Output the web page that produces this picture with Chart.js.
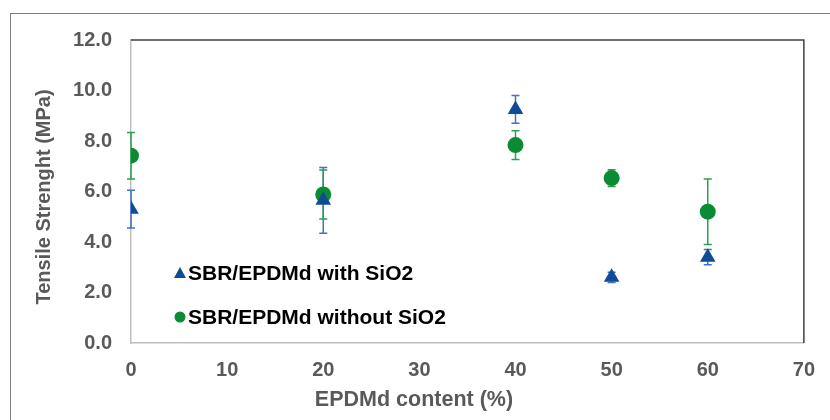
<!DOCTYPE html>
<html>
<head>
<meta charset="utf-8">
<script src="https://cdn.jsdelivr.net/npm/chart.js@4"></script>
<style>
  html, body { margin: 0; padding: 0; background: #fff; }
  #frame { position: absolute; left: 10px; top: 13px; width: 900px; height: 500px;
           border-top: 1px solid #7f7f7f; border-left: 1px solid #7f7f7f; }
  #wrap { position: absolute; left: 0; top: 0; width: 830px; height: 420px; }
</style>
</head>
<body>
<div id="frame"></div>
<div id="wrap"><canvas id="chart"></canvas></div>
<script>
// EPDMd content (%)
const contents = [0, 20, 40, 50, 60];

// Tensile strength (MPa) and error bars
const withSiO2 = [5.3, 5.65, 9.25, 2.6, 3.4];
const withSiO2Err = [0.75, 1.3, 0.55, 0.2, 0.3];
const withoutSiO2 = [7.42, 5.88, 7.84, 6.53, 5.2];
const withoutSiO2Err = [0.92, 0.97, 0.57, 0.33, 1.3];

const seriesLabels = ['SBR/EPDMd with SiO2', 'SBR/EPDMd without SiO2'];
const xTicks = [0, 10, 20, 30, 40, 50, 60, 70];
const yTicks = [0, 2, 4, 6, 8, 10, 12];
const xTitle = 'EPDMd content (%)';
const yTitle = 'Tensile Strenght (MPa)';

const FONT = '"Liberation Sans", Arial, sans-serif';
const BLUE = '#0f4c96';
const BLUE_ERR = '#3f72c8';
const GREEN = '#0b8c34';
const GREEN_ERR = '#2aa04a';
const AXIS_TEXT = '#595959';

function toPoints(xs, ys) {
    return xs.map((x, i) => ({ x: x, y: ys[i] }));
}

// error bars, drawn under the markers
const errorBars = {
    id: 'errorBars',
    beforeDatasetsDraw(chart) {
        const ctx = chart.ctx;
        const xs = chart.scales.x, ys = chart.scales.y;
        chart.data.datasets.forEach(ds => {
            ctx.save();
            ctx.strokeStyle = ds.errColor;
            ctx.lineWidth = 1.5;
            ds.data.forEach((p, i) => {
                const px = xs.getPixelForValue(p.x);
                const top = ys.getPixelForValue(p.y + ds.err[i]);
                const bot = ys.getPixelForValue(p.y - ds.err[i]);
                ctx.beginPath();
                ctx.moveTo(px, top); ctx.lineTo(px, bot);
                ctx.moveTo(px - 4, top); ctx.lineTo(px + 4, top);
                ctx.moveTo(px - 4, bot); ctx.lineTo(px + 4, bot);
                ctx.stroke();
            });
            ctx.restore();
        });
    }
};

// dark frame on top/right of plot area, axis titles, legend inside the plot
const plotFrame = {
    id: 'plotFrame',
    afterDraw(chart) {
        const ctx = chart.ctx;
        const a = chart.chartArea;
        ctx.save();
        ctx.strokeStyle = '#404040';
        ctx.lineWidth = 1.5;
        ctx.beginPath();
        ctx.moveTo(a.left, a.top);
        ctx.lineTo(a.right, a.top);
        ctx.lineTo(a.right, a.bottom);
        ctx.stroke();

        // axis titles (the x title sits left of centre in the original)
        ctx.fillStyle = AXIS_TEXT;
        ctx.textAlign = 'center';
        ctx.textBaseline = 'middle';
        ctx.font = 'bold 21.5px ' + FONT;
        ctx.fillText(xTitle, 414, 400);
        ctx.save();
        ctx.translate(44, 197);
        ctx.rotate(-Math.PI / 2);
        ctx.font = 'bold 20px ' + FONT;
        ctx.fillText(yTitle, 0, 0);
        ctx.restore();

        // legend
        const rows = [
            { y: 273, style: 'triangle', color: BLUE },
            { y: 317, style: 'circle', color: GREEN }
        ];
        ctx.font = 'bold 21px ' + FONT;
        ctx.textBaseline = 'middle';
        ctx.textAlign = 'left';
        rows.forEach((r, i) => {
            ctx.fillStyle = r.color;
            ctx.beginPath();
            if (r.style === 'triangle') {
                ctx.moveTo(180, r.y - 6);
                ctx.lineTo(186, r.y + 5);
                ctx.lineTo(174, r.y + 5);
                ctx.closePath();
            } else {
                ctx.arc(180, r.y, 5.5, 0, Math.PI * 2);
            }
            ctx.fill();
            ctx.fillStyle = '#000';
            ctx.fillText(chart.data.datasets[i].label, 188, r.y + 1);
        });
        ctx.restore();
    }
};

new Chart(document.getElementById('chart'), {
    type: 'scatter',
    data: {
        datasets: [{
            label: seriesLabels[0],
            data: toPoints(contents, withSiO2),
            err: withSiO2Err,
            errColor: BLUE_ERR,
            pointStyle: 'triangle',
            pointRadius: 9,
            pointHoverRadius: 9,
            backgroundColor: BLUE,
            borderColor: BLUE,
            borderWidth: 0
        }, {
            label: seriesLabels[1],
            data: toPoints(contents, withoutSiO2),
            err: withoutSiO2Err,
            errColor: GREEN_ERR,
            pointStyle: 'circle',
            pointRadius: 8,
            pointHoverRadius: 8,
            backgroundColor: GREEN,
            borderColor: GREEN,
            borderWidth: 0
        }]
    },
    options: {
        responsive: true,
        maintainAspectRatio: false,
        animation: false,
        layout: { padding: { top: 40, right: 17, left: 0, bottom: 0 } },
        plugins: {
            legend: { display: false },
            tooltip: { enabled: false }
        },
        scales: {
            x: {
                type: 'linear',
                min: 0,
                max: 70,
                afterBuildTicks: s => { s.ticks = xTicks.map(v => ({ value: v })); },
                afterFit: s => { s.height = 77; },
                grid: { display: false, drawTicks: false },
                border: { color: '#bfbfbf', width: 1.5 },
                ticks: {
                    padding: 15,
                    color: AXIS_TEXT,
                    font: { family: FONT, size: 20, weight: 'bold' }
                }
            },
            y: {
                min: 0,
                max: 12,
                afterBuildTicks: s => { s.ticks = yTicks.map(v => ({ value: v })); },
                afterFit: s => { s.width = 131; },
                grid: { display: false, drawTicks: false },
                border: { color: '#bfbfbf', width: 1.5 },
                ticks: {
                    padding: 19,
                    color: AXIS_TEXT,
                    font: { family: FONT, size: 20, weight: 'bold' },
                    callback: v => v.toFixed(1)
                }
            }
        }
    },
    plugins: [errorBars, plotFrame]
});
</script>
</body>
</html>
